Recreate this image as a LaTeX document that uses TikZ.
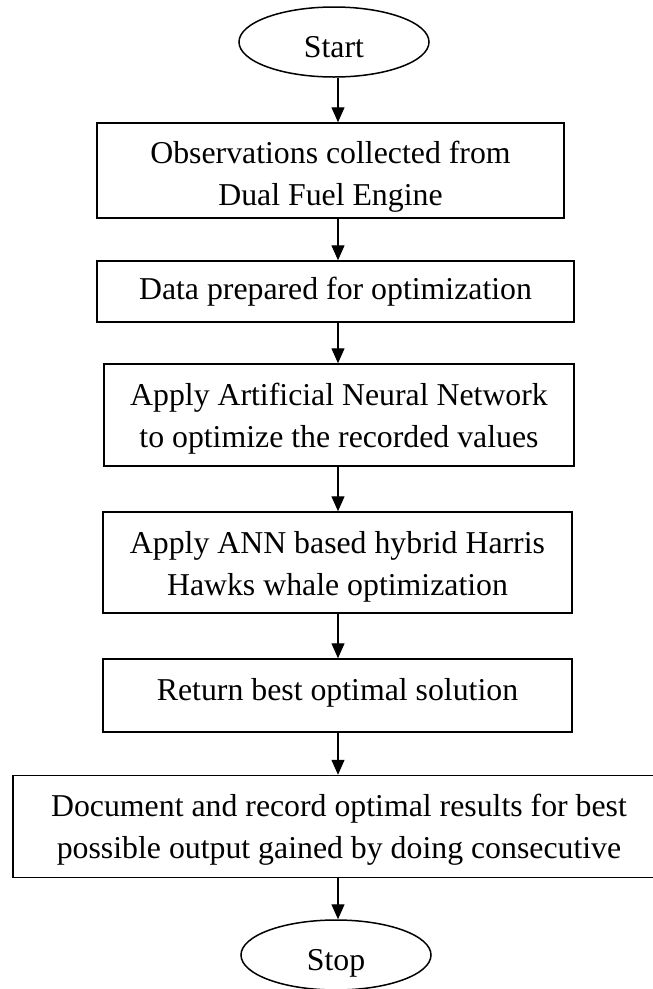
\documentclass[tikz,border=0pt]{standalone}
\usepackage{fontspec}
\setmainfont{Liberation Serif}
\usetikzlibrary{shapes.geometric,arrows.meta}

% invisible strut that pushes a box's first line down
\newcommand{\toppad}[1]{\rule{0pt}{#1}}

\begin{document}
\begin{tikzpicture}[x=1pt, y=-1pt,
    box/.style={draw, line width=1.5pt, rectangle, align=center, inner sep=0pt,
        font=\fontsize{31.8}{42}\selectfont},
    term/.style={draw, line width=1.5pt, ellipse, inner sep=0pt,
        minimum width=190pt, minimum height=70pt, text height=37pt, text depth=7pt,
        font=\fontsize{31.8}{42}\selectfont},
    arr/.style={-{Triangle[length=15pt,width=13pt]}, line width=1.4pt}]
    % Page size
    \useasboundingbox (0,0) rectangle (653,989);

    % Terminals
    \node[term] (start) at (334,42) {Start};
    \node[term] (stop) at (336,955) {Stop};

    % Process boxes
    \node[box, minimum width=467pt, minimum height=95pt] (obs) at (330.5,170.5)
        {\toppad{34pt}Observations collected from\\ Dual Fuel Engine};
    \node[box, minimum width=477pt, minimum height=61pt] (data) at (335.5,291.5)
        {Data prepared for optimization};
    \node[box, minimum width=470pt, minimum height=102pt] (ann) at (339,415)
        {\toppad{29pt}Apply Artificial Neural Network\\ to optimize the recorded values};
    \node[box, minimum width=469pt, minimum height=101pt] (hyb) at (337.5,562.5)
        {\toppad{30pt}Apply ANN based hybrid Harris\\ Hawks whale optimization};
    \node[box, minimum width=469pt, minimum height=73pt, text depth=12pt] (ret) at (337.5,695.5)
        {Return best optimal solution};
    \node[box, minimum width=652pt, minimum height=102pt] (doc) at (339,826.5)
        {\toppad{28pt}Document and record optimal results for best\\ possible output gained by doing consecutive};

    % Flow arrows
    \coordinate (axis) at (338,0);
    \draw[arr] (axis |- start.south) -- (axis |- obs.north);
    \draw[arr] (axis |- obs.south) -- (axis |- data.north);
    \draw[arr] (axis |- data.south) -- (axis |- ann.north);
    \draw[arr] (axis |- ann.south) -- (axis |- hyb.north);
    \draw[arr] (axis |- hyb.south) -- (axis |- ret.north);
    \draw[arr] (axis |- ret.south) -- (axis |- doc.north);
    \draw[arr] (axis |- doc.south) -- (axis |- stop.north);
\end{tikzpicture}
\end{document}
